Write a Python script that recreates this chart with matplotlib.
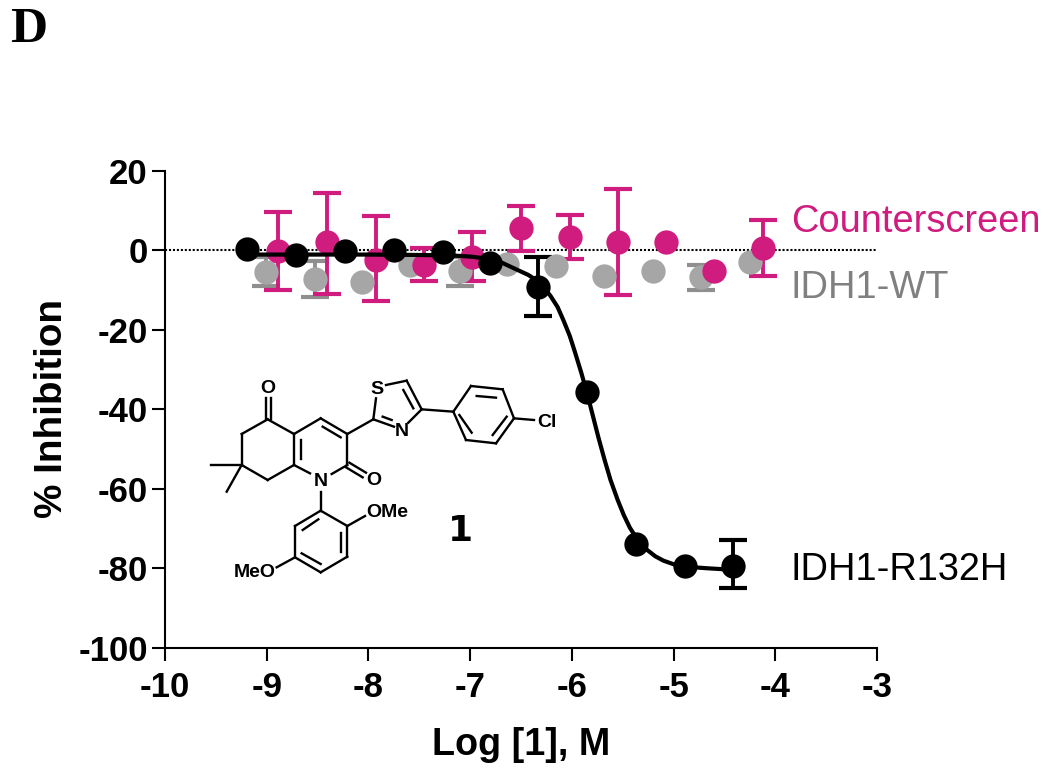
import matplotlib
matplotlib.use("Agg")
import matplotlib.pyplot as plt

plt.rcParams['font.family'] = ['Liberation Sans', 'DejaVu Sans']
plt.rcParams['axes.unicode_minus'] = False

# IDH1-R132H points
r132h_x = [-9.19, -8.71, -8.23, -7.75, -7.27, -6.80, -6.33, -5.85, -5.37, -4.89, -4.42]
r132h_y = [0.3, -1.2, -0.3, 0.0, -0.5, -3.2, -9.3, -35.6, -74.0, -79.5, -79.5]
r132h_hi = [None, None, None, None, None, None, -1.8, None, None, None, -73.0]
r132h_lo = [None, None, None, None, None, None, -16.6, None, None, None, -85.0]

# fitted curve
curve_x = [-9.2, -8.5, -8.0, -7.5, -7.2, -7.0, -6.87, -6.7, -6.54, -6.43, -6.35, -6.28, -6.21, -6.14,
           -6.08, -6.02, -5.97, -5.91, -5.85, -5.79, -5.74, -5.68, -5.62, -5.55, -5.49, -5.43, -5.37,
           -5.31, -5.26, -5.18, -5.10, -5.0, -4.89, -4.68, -4.42]
curve_y = [-1.1, -1.1, -1.1, -1.2, -1.3, -1.6, -2.0, -3.0, -4.9, -6.2, -7.5, -9.2, -11.5, -14.3,
           -17.8, -21.6, -25.6, -30.6, -36.0, -42.0, -47.0, -52.6, -57.8, -62.8, -66.6, -69.8, -72.2,
           -74.0, -75.4, -77.0, -78.1, -79.0, -79.6, -80.0, -80.4]

# Counterscreen
counter_x = [-8.89, -8.41, -7.93, -7.45, -6.98, -6.50, -6.02, -5.55, -5.07, -4.60, -4.12]
counter_y = [-0.3, 2.0, -2.4, -3.6, -1.7, 5.5, 3.3, 2.0, 2.0, -5.2, 0.5]
counter_hi = [9.7, 14.4, 8.7, 0.5, 4.7, 11.1, 8.9, 15.4, None, None, 7.5]
counter_lo = [-10.1, -10.9, -12.7, -7.8, -7.8, -0.2, -2.3, -11.3, None, None, -6.5]

# IDH1-WT
wt_x = [-9.01, -8.53, -8.06, -7.59, -7.10, -6.64, -6.16, -5.68, -5.20, -4.73, -4.25]
wt_y = [-5.4, -7.3, -8.1, -3.6, -5.3, -3.5, -4.0, -6.6, -5.3, -6.8, -2.9]
wt_hi = [-1.7, -2.6, None, None, -1.8, None, None, None, None, -3.8, None]
wt_lo = [-9.1, -11.7, None, None, -8.9, None, None, None, None, -9.9, None]

x_ticks = [-10, -9, -8, -7, -6, -5, -4, -3]
y_ticks = [20, 0, -20, -40, -60, -80, -100]

# drawing of compound 1, in a 3x grid placed at (190, 360) of the figure
bonds = [
    (227, 178, 227, 115), (243, 178, 243, 115), (233, 178, 155, 222), (155, 222, 155, 315),
    (155, 315, 233, 360), (233, 360, 312, 315), (312, 315, 312, 222), (333, 298, 333, 240),
    (312, 222, 233, 178), (312, 222, 392, 175), (392, 175, 472, 222), (398, 200, 452, 232),
    (472, 222, 472, 315), (472, 315, 425, 342), (360, 340, 312, 315), (478, 308, 528, 338),
    (468, 322, 518, 352), (155, 315, 63, 315), (155, 315, 110, 395), (472, 222, 550, 178),
    (550, 178, 558, 115), (588, 75, 650, 62), (650, 62, 695, 148), (640, 90, 670, 145),
    (695, 148, 655, 188), (612, 200, 550, 178), (578, 170, 605, 180), (695, 148, 790, 155),
    (790, 155, 843, 78), (843, 78, 938, 88), (938, 88, 972, 175), (972, 175, 918, 250),
    (918, 250, 828, 240), (828, 240, 790, 155), (860, 108, 918, 113), (950, 170, 908, 225),
    (845, 218, 808, 165), (972, 175, 1032, 180), (392, 395, 392, 452), (392, 452, 472, 498),
    (472, 498, 472, 590), (472, 590, 392, 637), (392, 637, 315, 592), (315, 592, 315, 498),
    (315, 498, 392, 452), (385, 478, 338, 510), (452, 520, 452, 575), (335, 580, 392, 612),
    (472, 498, 525, 468), (315, 592, 260, 622),
]
atoms = [
    ("O", 233, 85, "center"), ("O", 552, 362, "center"), ("N", 392, 365, "center"),
    ("S", 562, 88, "center"), ("N", 635, 215, "center"), ("Cl", 1072, 187, "center"),
    ("OMe", 528, 457, "left"), ("MeO", 257, 638, "right"),
]

magenta = "#cf1c7e"
grey = "#a6a6a6"


def draw_errors(ax, xs, hi, lo, color):
    for x, h, l in zip(xs, hi, lo):
        if h is None:
            continue
        ax.plot([x, x], [l, h], color=color, lw=2.8, solid_capstyle='butt', clip_on=False)
        for y in (l, h):
            ax.plot([x], [y], marker='_', ms=20, mew=3, color=color, clip_on=False)


fig = plt.figure(figsize=(10.5, 7.7), dpi=100)
ax = fig.add_axes([165 / 1050, 1 - 647.7 / 770, (877 - 165) / 1050, (647.7 - 170.7) / 770])

ax.plot([-10, -3], [0, 0], color="black", lw=1.5, linestyle=(0, (1, 0.9)), zorder=1)

# grey first, then magenta, black goes on top
draw_errors(ax, wt_x, wt_hi, wt_lo, "#8f8f8f")
ax.plot(wt_x, wt_y, 'o', color=grey, ms=17.5, mew=0, zorder=3)
draw_errors(ax, counter_x, counter_hi, counter_lo, magenta)
ax.plot(counter_x, counter_y, 'o', color=magenta, ms=17.5, mew=0, zorder=4)
ax.plot(curve_x, curve_y, color="black", lw=3, zorder=5)
draw_errors(ax, r132h_x, r132h_hi, r132h_lo, "black")
ax.plot(r132h_x, r132h_y, 'o', color="black", ms=17.5, mew=0, zorder=6)

ax.set_xlim(-10, -3)
ax.set_ylim(-100, 20)
ax.set_xticks(x_ticks)
ax.set_yticks(y_ticks)
ax.spines['top'].set_visible(False)
ax.spines['right'].set_visible(False)
ax.spines['left'].set_linewidth(1.5)
ax.spines['bottom'].set_linewidth(1.5)
ax.tick_params(length=9.5, width=1.5, labelsize=25, pad=3)
ax.tick_params(axis='x', pad=7)
for lab in ax.get_xticklabels() + ax.get_yticklabels():
    lab.set_fontweight('bold')

# everything else is placed in figure pixels
ov = fig.add_axes([0, 0, 1, 1])
ov.set_xlim(0, 1050)
ov.set_ylim(770, 0)
ov.axis('off')

for x0, y0, x1, y1 in bonds:
    ov.plot([190 + x0 / 3, 190 + x1 / 3], [360 + y0 / 3, 360 + y1 / 3], color="black", lw=1.7)
for label, x, y, ha in atoms:
    ov.text(190 + x / 3, 360 + y / 3, label, ha=ha, va='center', fontsize=14, fontweight='bold')

ov.text(461, 531, "1", ha='center', va='center', fontsize=26, fontweight='bold', family='DejaVu Sans')
ov.text(10, 30, "D", ha='left', va='center', fontsize=37, fontweight='bold', family='Liberation Serif')
ov.text(52, 408, "% Inhibition", rotation=90, ha='center', va='center', fontsize=27.8, fontweight='bold')
ov.text(521, 745, "Log [1], M", ha='center', va='center', fontsize=27.2, fontweight='bold')
ov.text(791, 222, "Counterscreen", ha='left', va='center', fontsize=27.4, color=magenta)
ov.text(791, 288, "IDH1-WT", ha='left', va='center', fontsize=27.4, color="#808080")
ov.text(791, 570, "IDH1-R132H", ha='left', va='center', fontsize=27.4, color="black")

fig.savefig("out.png", dpi=100)
